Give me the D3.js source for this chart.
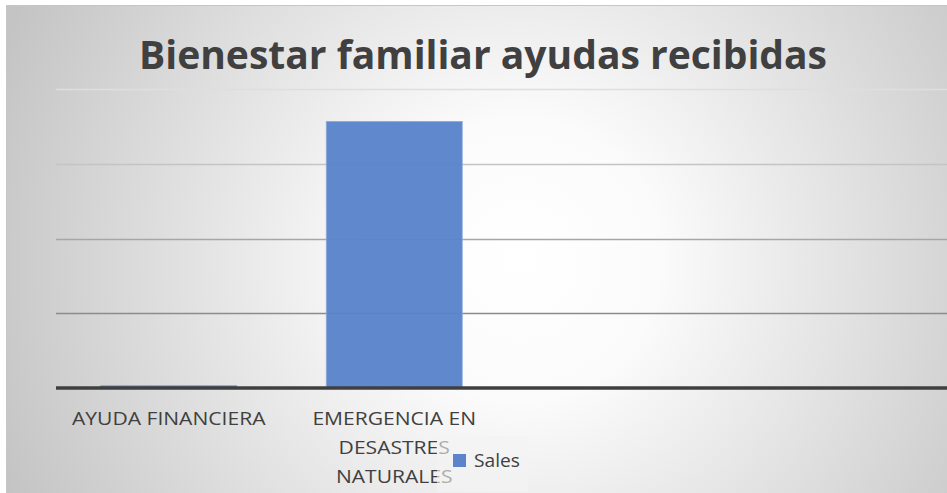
<!DOCTYPE html>
<html>
<head>
<meta charset="utf-8">
<script src="https://cdn.jsdelivr.net/npm/d3@7"></script>
<style>
  html, body { margin: 0; padding: 0; background: #fff; }
  svg { display: block; }
</style>
</head>
<body>
<svg id="chart" width="947" height="493"></svg>
<script>
const categories = ["AYUDA FINANCIERA", "EMERGENCIA EN DESASTRES NATURALES"];
const labelLines = [["AYUDA FINANCIERA"], ["EMERGENCIA EN", "DESASTRES", "NATURALES"]];
const sales = [1, 107];
const yTicks = [0, 30, 60, 90, 120];
const gridColors = ["#3f3f3f", "#8c8c8c", "#a6a6a6", "#c4c4c4", "#dedede"];
const seriesName = "Sales";

const svg = d3.select("#chart");

// chart background: soft radial gradient, white in the middle
const defs = svg.append("defs");
const grad = defs.append("radialGradient")
  .attr("id", "bg")
  .attr("gradientUnits", "userSpaceOnUse")
  .attr("cx", 520).attr("cy", 260).attr("r", 560);
grad.append("stop").attr("offset", "0%").attr("stop-color", "#ffffff");
grad.append("stop").attr("offset", "25%").attr("stop-color", "#fbfbfb");
grad.append("stop").attr("offset", "100%").attr("stop-color", "#c4c4c4");

svg.append("rect")
  .attr("x", 6.5).attr("y", 5.5)
  .attr("width", 960).attr("height", 520)
  .attr("fill", "url(#bg)")
  .attr("stroke", "#c6c6c6");

const plot = { left: 56, right: 958, top: 89, bottom: 388 };

const x = d3.scaleBand()
  .domain(categories)
  .range([plot.left, plot.left + 2 * 225.5])
  .paddingInner(0.397)
  .paddingOuter(0.1985);

const y = d3.scaleLinear()
  .domain([0, 120])
  .range([plot.bottom, plot.top]);

// gridlines (baseline drawn later, on top of the bars)
svg.append("g")
  .selectAll("line")
  .data(yTicks.slice(1))
  .enter().append("line")
  .attr("x1", plot.left).attr("x2", plot.right)
  .attr("y1", d => Math.round(y(d)) + 0.5)
  .attr("y2", d => Math.round(y(d)) + 0.5)
  .attr("stroke", (d, i) => gridColors[i + 1])
  .attr("stroke-width", 1.5);

// bars
svg.append("g")
  .selectAll("rect")
  .data(sales)
  .enter().append("rect")
  .attr("x", (d, i) => x(categories[i]))
  .attr("y", d => y(d))
  .attr("width", x.bandwidth())
  .attr("height", d => y(0) - y(d))
  .attr("fill", "#5b84cb")
  .attr("stroke", "#8eaadc")
  .attr("stroke-width", 0.8)
  .attr("fill-opacity", 0.97);

// baseline
svg.append("line")
  .attr("x1", plot.left).attr("x2", plot.right)
  .attr("y1", y(0)).attr("y2", y(0))
  .attr("stroke", gridColors[0])
  .attr("stroke-width", 3.5);

// category labels; the original font is wider, so stretch a bit
const labels = svg.append("g")
  .attr("font-family", "'Open Sans', sans-serif")
  .attr("font-size", 18)
  .attr("fill", "#404040")
  .attr("text-anchor", "middle");

const stretch = 1.17;
labelLines.forEach((lines, i) => {
  const cx = x(categories[i]) + x.bandwidth() / 2;
  lines.forEach((ln, j) => {
    const t = labels.append("text")
      .attr("x", cx)
      .attr("y", 425 + j * 29)
      .text(ln);
    const w = t.node().getComputedTextLength();
    t.attr("textLength", w * stretch).attr("lengthAdjust", "spacingAndGlyphs");
  });
});

// legend box, semi transparent so it fades the labels below it
const legend = svg.append("g").attr("transform", "translate(437,436)");
legend.append("rect")
  .attr("width", 91).attr("height", 56)
  .attr("fill", "#f4f4f4").attr("fill-opacity", 0.6);
legend.append("rect")
  .attr("x", 16).attr("y", 18)
  .attr("width", 13).attr("height", 13)
  .attr("fill", "#5b84cb");
const legText = legend.append("text")
  .attr("x", 37).attr("y", 31)
  .attr("font-family", "'Open Sans', sans-serif")
  .attr("font-size", 19)
  .attr("fill", "#404040")
  .text(seriesName);
legText.attr("textLength", 46).attr("lengthAdjust", "spacingAndGlyphs");

// title
const title = svg.append("text")
  .attr("x", 139).attr("y", 69)
  .attr("font-family", "'Open Sans', sans-serif")
  .attr("font-weight", "bold")
  .attr("font-size", 39)
  .attr("fill", "#404040")
  .text("Bienestar familiar ayudas recibidas");
title.attr("textLength", 688).attr("lengthAdjust", "spacingAndGlyphs");
</script>
</body>
</html>
